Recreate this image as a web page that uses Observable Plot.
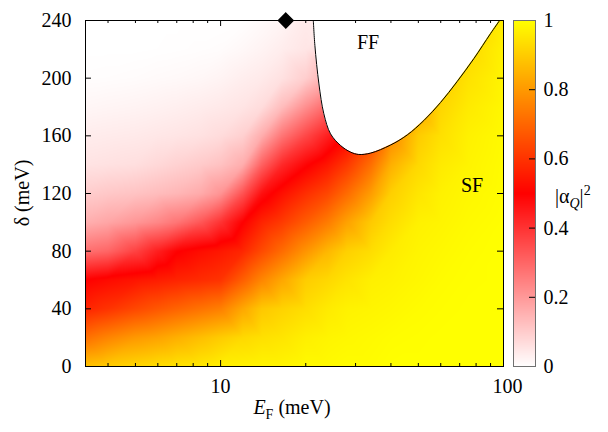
<!DOCTYPE html>
<html><head><meta charset="utf-8">
<script src="https://cdn.jsdelivr.net/npm/d3@7"></script>
<script src="https://cdn.jsdelivr.net/npm/@observablehq/plot@0.6"></script>
<style>
body{margin:0;background:#fff;}
#chart{position:relative;width:608px;height:432px;}
#chart svg{position:absolute;left:0;top:0;}
#chart svg, #chart svg text, #chart svg tspan{font-family:"Liberation Serif","Times New Roman",serif !important;}
</style></head><body><div id="chart"></div>
<script>
// ---- data ----
const efGrid = [3.33, 4, 5, 6, 7, 8.5, 10, 12, 14, 16.5, 20, 24, 28, 34, 40, 50, 60, 75, 100];
const deltaGrid = [0, 20, 40, 60, 80, 100, 120, 140, 160, 180, 200, 220, 240];
// |alpha_Q|^2, one row per E_F value, one entry per delta value
const alphaSq = [
  [0.88, 0.72, 0.57, 0.50, 0.28, 0.156, 0.098, 0.054, 0.036, 0.017, 0.004, 0, 0],
  [0.90, 0.76, 0.60, 0.52, 0.30, 0.175, 0.108, 0.058, 0.039, 0.020, 0.005, 0, 0],
  [0.92, 0.80, 0.64, 0.54, 0.37, 0.205, 0.117, 0.063, 0.042, 0.023, 0.007, 0, 0],
  [0.935, 0.82, 0.67, 0.555, 0.44, 0.235, 0.13, 0.076, 0.047, 0.027, 0.010, 0.001, 0],
  [0.945, 0.845, 0.695, 0.57, 0.495, 0.27, 0.142, 0.088, 0.051, 0.031, 0.012, 0.002, 0],
  [0.955, 0.875, 0.725, 0.585, 0.525, 0.33, 0.165, 0.103, 0.058, 0.037, 0.016, 0.004, 0],
  [0.97, 0.90, 0.75, 0.60, 0.545, 0.40, 0.21, 0.12, 0.069, 0.043, 0.022, 0.006, 0],
  [0.975, 0.926, 0.829, 0.686, 0.575, 0.50, 0.34, 0.16, 0.092, 0.052, 0.033, 0.014, 0.002],
  [0.98, 0.94, 0.893, 0.763, 0.645, 0.57, 0.47, 0.31, 0.16, 0.068, 0.041, 0.023, 0.01],
  [0.98, 0.95, 0.914, 0.828, 0.711, 0.615, 0.53, 0.42, 0.27, 0.13, 0.058, 0.035, 0.02],
  [0.99, 0.97, 0.936, 0.902, 0.79, 0.68, 0.59, 0.49, 0.36, 0.22, 0.095, 0.05, 0.04],
  [0.99, 0.98, 0.961, 0.924, 0.86, 0.744, 0.64, 0.545, 0.44, 0.30, 0.16, 0.065, 0.03],
  [0.995, 0.985, 0.975, 0.947, 0.909, 0.817, 0.71, 0.61, 0.50, 0.38, 0.26, 0.15, 0.08],
  [0.995, 0.99, 0.98, 0.97, 0.934, 0.896, 0.807, 0.717, 0.623, 0.53, 0.45, 0.38, 0.32],
  [1, 0.995, 0.985, 0.975, 0.963, 0.935, 0.907, 0.844, 0.769, 0.70, 0.64, 0.58, 0.52],
  [1, 0.998, 0.993, 0.985, 0.98, 0.973, 0.951, 0.925, 0.90, 0.825, 0.75, 0.68, 0.62],
  [1, 1, 0.997, 0.993, 0.987, 0.98, 0.974, 0.96, 0.94, 0.92, 0.90, 0.86, 0.82],
  [1, 1, 1, 0.998, 0.995, 0.99, 0.985, 0.978, 0.973, 0.96, 0.944, 0.925, 0.905],
  [1, 1, 1, 1, 1, 0.998, 0.995, 0.993, 0.99, 0.985, 0.98, 0.975, 0.965]
];
// FF / SF phase boundary
const ffBoundaryEF    = [21.27, 21.54, 22.26, 23.17, 24.47, 26.55, 28.8, 30.73, 33.88, 39.88, 45.67, 52.29, 59.9, 68.6, 78.6, 89.9, 96.9];
const ffBoundaryDelta = [240, 222.7, 196, 175.3, 161.4, 153.3, 148.7, 147.1, 148, 153.6, 160.6, 170.6, 183.1, 197.7, 213.6, 230.8, 240];
const markerPoint = [{ef: 17, delta: 240}];
const phaseLabels = [{ef: 33.2, delta: 224.4, text: "FF"}, {ef: 77.4, delta: 125.2, text: "SF"}];
const xTickMajor = [10, 100];
const xTickMinor = [4, 5, 6, 7, 8, 9, 20, 30, 40, 50, 60, 70, 80, 90];
const yTicks = [0, 40, 80, 120, 160, 200, 240];
const cbTicks = [0, 0.2, 0.4, 0.6, 0.8, 1];

// ---- build ----
const W = 608, H = 432;
const mL = 85, mR = 105, mT = 20, mB = 66;
const frameW = W - mL - mR, frameH = H - mT - mB;
const FONT = '"Liberation Serif", "Times New Roman", serif';
const colorOpts = {type: "linear", domain: [0, 0.5, 1], range: ["#ffffff", "#ff0000", "#ffff00"], interpolate: "rgb"};

const cells = [];
efGrid.forEach((ef, i) => deltaGrid.forEach((d, j) => cells.push({ef, delta: d, a: alphaSq[i][j]})));
const ff = ffBoundaryEF.map((ef, i) => ({ef, delta: ffBoundaryDelta[i]}));

const main = Plot.plot({
  width: W, height: H, marginLeft: mL, marginRight: mR, marginTop: mT, marginBottom: mB,
  style: {fontFamily: FONT, fontSize: "20px", background: "white", color: "black"},
  x: {type: "log", domain: [3.33, 100]},
  y: {domain: [0, 240]},
  color: colorOpts,
  marks: [
    Plot.raster(cells, {x: "ef", y: "delta", fill: "a", interpolate: "barycentric", x1: 3.33, x2: 100, y1: 0, y2: 240}),
    Plot.areaY(ff, {x: "ef", y1: "delta", y2: () => 240, fill: "white", curve: "catmull-rom"}),
    Plot.line(ff, {x: "ef", y: "delta", stroke: "black", strokeWidth: 1, curve: "catmull-rom"}),
    Plot.frame({stroke: "black", strokeWidth: 1}),
    Plot.tickX(xTickMajor, {x: d => d, insetTop: frameH - 6, stroke: "black"}),
    Plot.tickX(xTickMajor, {x: d => d, insetBottom: frameH - 6, stroke: "black"}),
    Plot.tickX(xTickMinor, {x: d => d, insetTop: frameH - 3, stroke: "black"}),
    Plot.tickX(xTickMinor, {x: d => d, insetBottom: frameH - 3, stroke: "black"}),
    Plot.tickY(yTicks, {y: d => d, insetRight: frameW - 6, stroke: "black"}),
    Plot.tickY(yTicks, {y: d => d, insetLeft: frameW - 6, stroke: "black"}),
    Plot.axisX({ticks: [10], tickSize: 0, tickPadding: 12, tickFormat: d => String(d), label: null}),
    Plot.axisX({ticks: [100], tickSize: 0, tickPadding: 12, dx: 4, tickFormat: d => String(d), label: null}),
    Plot.axisY({ticks: yTicks, tickSize: 0, tickPadding: 14, tickFormat: d => String(d), label: null}),
    Plot.text(phaseLabels, {x: "ef", y: "delta", text: "text", fontSize: 20, fill: "black"}),
    Plot.dot(markerPoint, {x: "ef", y: "delta", symbol: "diamond2", r: 6.6, fill: "black", stroke: "black"})
  ]
});

const cb = Plot.plot({
  width: W, height: H, marginLeft: 513, marginRight: 73, marginTop: mT, marginBottom: mB,
  style: {fontFamily: FONT, fontSize: "20px", background: "transparent", color: "black"},
  x: {domain: [0, 1], axis: null},
  y: {domain: [0, 1]},
  color: colorOpts,
  marks: [
    Plot.raster({x1: 0, x2: 1, y1: 0, y2: 1, fill: (x, y) => y, width: 1, height: frameH}),
    Plot.frame({stroke: "#707070", strokeWidth: 1}),
    Plot.tickY(cbTicks.slice(1, -1), {y: d => d, insetLeft: 16, stroke: "black"}),
    Plot.axisY({anchor: "right", ticks: cbTicks, tickSize: 0, tickPadding: 8, tickFormat: d => String(d), label: null})
  ]
});

const host = document.getElementById("chart");
host.appendChild(main);
host.appendChild(cb);

// axis titles with mixed styles
const svg = d3.select(main);
svg.append("text")
  .attr("transform", "translate(29,193) rotate(-90)")
  .attr("text-anchor", "middle").attr("font-size", 20).attr("fill", "black")
  .text("δ (meV)");
const xl = svg.append("text").attr("x", 292).attr("y", 414)
  .attr("text-anchor", "middle").attr("font-size", 20).attr("fill", "black");
xl.append("tspan").attr("font-style", "italic").text("E");
xl.append("tspan").attr("font-size", 14).attr("dy", 5).text("F");
xl.append("tspan").attr("dy", -5).text(" (meV)");
const cl = svg.append("text").attr("x", 555).attr("y", 203)
  .attr("text-anchor", "start").attr("font-size", 20).attr("fill", "black");
cl.append("tspan").text("|α");
cl.append("tspan").attr("font-size", 14).attr("font-style", "italic").attr("dy", 5).text("Q");
cl.append("tspan").attr("dy", -5).text("|");
cl.append("tspan").attr("font-size", 14).attr("dy", -8).text("2");
</script>
</body></html>
